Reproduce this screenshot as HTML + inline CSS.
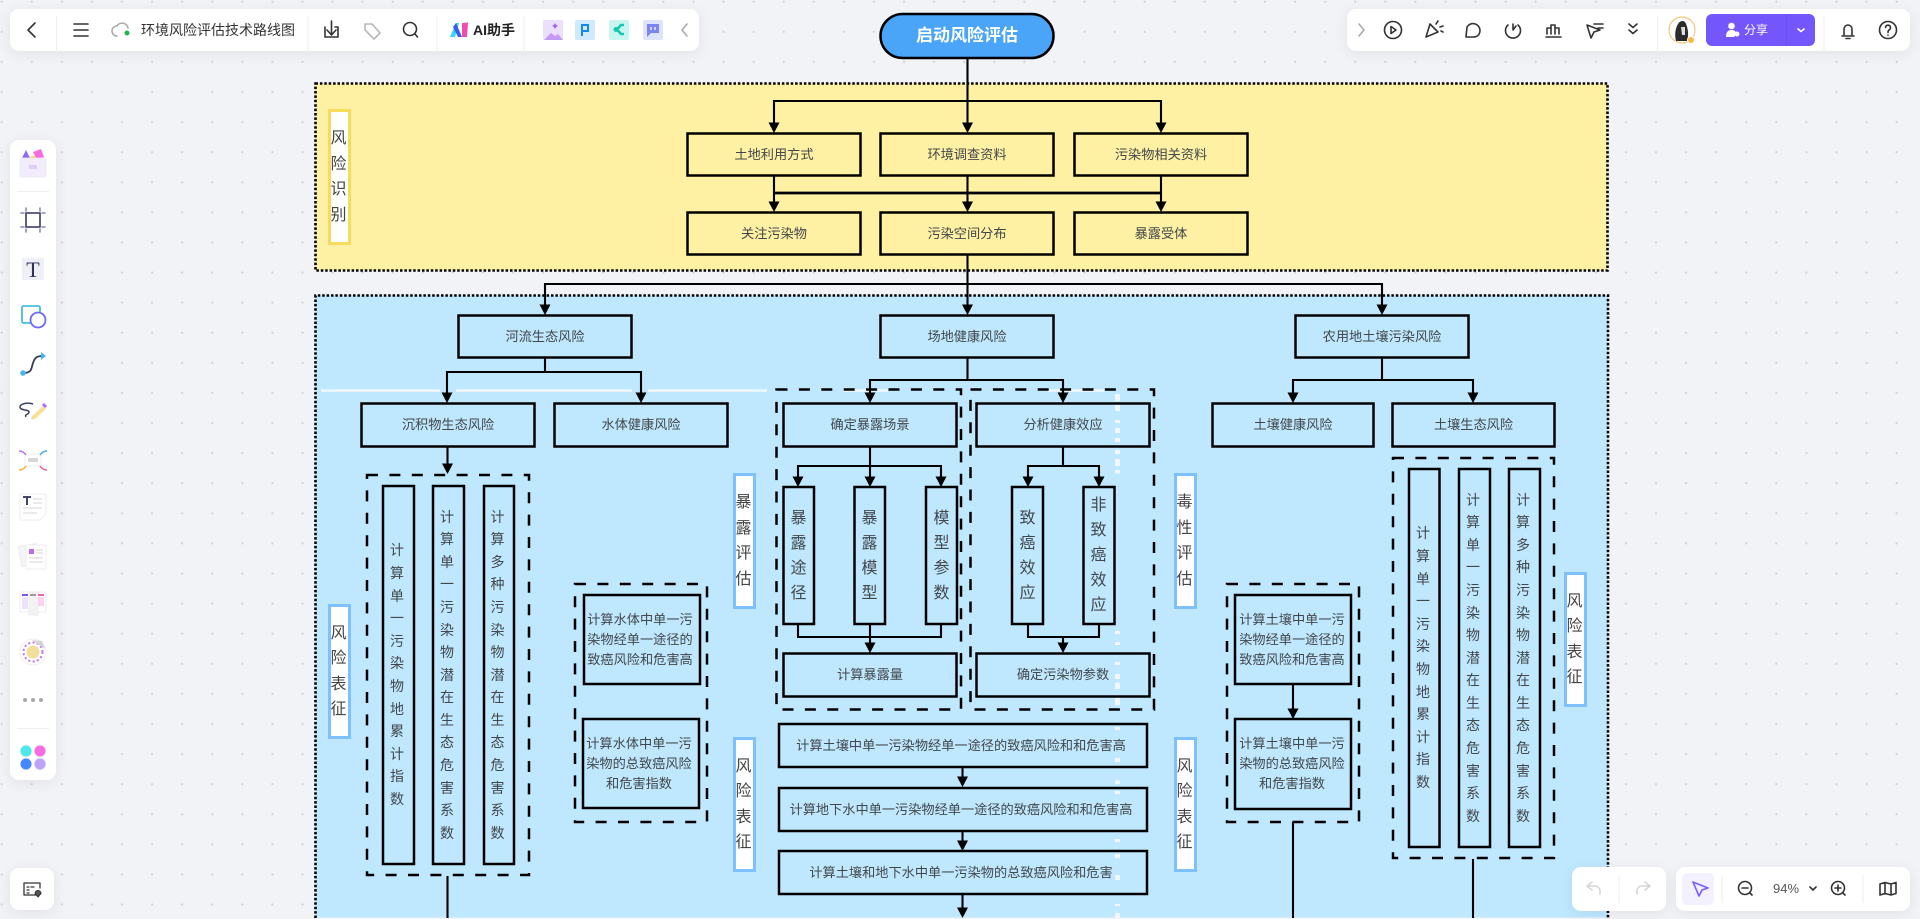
<!DOCTYPE html>
<html lang="zh">
<head>
<meta charset="utf-8">
<title>环境风险评估技术路线图</title>
<style>
html,body{margin:0;padding:0;width:1920px;height:919px;overflow:hidden;background:#f2f3f6;}
body{position:relative;font-family:"Liberation Sans","Noto Sans CJK SC",sans-serif;color:#333;}
#bg{position:absolute;left:0;top:0;width:1920px;height:919px;background-image:radial-gradient(circle at 1.2px 1.2px,#d2d3d7 .9px,transparent 1.3px);background-size:30.09px 30.1px;background-position:.5px .5px;}
svg{position:absolute;left:0;top:0;}
.b{position:absolute;display:flex;align-items:center;justify-content:center;text-align:center;font-size:13.2px;line-height:20px;color:#42474b;box-sizing:border-box;}
.v{width:1em;word-break:break-all;font-size:14px;line-height:22.6px;margin-left:-1px;}
.v2{width:1em;word-break:break-all;font-size:16px;line-height:25px;}
.l{width:1em;word-break:break-all;font-size:16px;line-height:25.5px;color:#444;margin-left:-2px;}
.lab{background:#fff;border:3px solid #7fc0ff;}
.laby{border-color:#f6dc5b;}
.p{position:absolute;background:#fff;border-radius:9px;box-shadow:0 3px 14px rgba(30,40,70,.08);}
.t{position:absolute;font-size:14px;line-height:20px;color:#333;white-space:nowrap;}
</style>
</head>
<body>
<div id="bg"></div>

<svg width="1920" height="919" viewBox="0 0 1920 919">
  <!-- zones -->
  <rect x="315.5" y="83.5" width="1292" height="187" fill="#fef1a3" stroke="#000" stroke-width="2.6" stroke-dasharray="2.5 1.9"/>
  <rect x="315.5" y="295.5" width="1292.5" height="622" fill="#bfe8ff" stroke="none"/>
  <path d="M315.5 918V295.5H1608V918" fill="none" stroke="#000" stroke-width="2.6" stroke-dasharray="2.5 1.9"/>

  <!-- white stripes -->
  <g stroke="#f1f7fb" stroke-width="2.4" fill="none">
    <path d="M321 390.5H440M456 390.5H632M648 390.5H767M843 390.5H888M1048 390.5H1104"/>
  </g>
  <path d="M1117.5 394V401M1117.5 404V411M1117.5 420V423M1117.5 428V433M1117.5 438V442M1117.5 450V454M1117.5 459V466M1117.5 470V473.5M1117.5 631V634M1117.5 642V645M1117.5 662V665M1117.5 674V679M1117.5 682.5V689M1117.5 698V705M1117.5 727V730M1117.5 758V762M1117.5 780.5V784M1117.5 791V794M1117.5 839V842M1117.5 854V858M1117.5 875V880M1117.5 904V906M1117.5 913V918" stroke="#f1f7fb" stroke-width="5" fill="none"/>

  <!-- dashed containers -->
  <g fill="none" stroke="#000" stroke-width="2.5" stroke-dasharray="11 11.4">
    <rect x="367" y="475" width="162" height="400"/>
    <rect x="575" y="584" width="132" height="238"/>
    <rect x="776.5" y="389.5" width="184.5" height="320"/>
    <rect x="970.5" y="389.5" width="183.5" height="320"/>
    <rect x="1227" y="584" width="132" height="238"/>
    <rect x="1393" y="458" width="161" height="400"/>
  </g>

  <!-- connectors -->
  <g fill="none" stroke="#000" stroke-width="2.1">
    <path d="M967.5 58V125M774 124V101H1161V124"/>
    <path d="M774 176V204M967.5 176V204M1161 176V204"/>
    <path d="M774 193H1161" stroke-width="2.7"/>
    <path d="M967.5 255V306M545 306V284H1382V306"/>
    <path d="M545 358V372M447 394V372H641V394"/>
    <path d="M967.5 358V380M870 394V380H1063V394"/>
    <path d="M1382 358V380M1293 394V380H1473V394"/>
    <path d="M447.5 447V465"/>
    <path d="M870 446V478M798 478V466H941V478"/>
    <path d="M1063 446V466M1028 478V466H1099V478"/>
    <path d="M798 624V637H941V624M870 624V644"/>
    <path d="M1028 624V637H1099V624M1063 637V644"/>
    <path d="M962.5 767V778M962.5 831V842M962.5 894V910"/>
    <path d="M1293 684V710"/>
    <path d="M447.5 876V918M1293 822V918M1473 859V918"/>
  </g>
  <!-- arrowheads -->
  <g fill="#000">
    <path d="M768.500 122.500h11l-5.500 10.500zM962 122.500h11l-5.500 10.500zM1155.500 122.500h11l-5.500 10.500z"/>
    <path d="M768.500 201.500h11l-5.500 10.500zM962 201.500h11l-5.500 10.500zM1155.500 201.500h11l-5.500 10.500z"/>
    <path d="M539.500 304.500h11l-5.500 10.500zM962 304.500h11l-5.500 10.500zM1376.500 304.500h11l-5.500 10.500z"/>
    <path d="M441.500 392.500h11l-5.500 10.500zM635.500 392.500h11l-5.500 10.500zM864.500 392.500h11l-5.500 10.500zM1057.500 392.500h11l-5.500 10.500zM1287.500 392.500h11l-5.500 10.500zM1467.500 392.500h11l-5.500 10.500z"/>
    <path d="M442 463.500h11l-5.500 10.500z"/>
    <path d="M792.500 476.500h11l-5.500 10.500zM864.500 476.500h11l-5.500 10.500zM935.500 476.500h11l-5.500 10.500zM1022.500 476.500h11l-5.500 10.500zM1093.500 476.500h11l-5.500 10.500z"/>
    <path d="M864.500 642.500h11l-5.500 10.500zM1057.500 642.500h11l-5.500 10.500z"/>
    <path d="M957 776.500h11l-5.500 10.500zM957 840.500h11l-5.500 10.500zM957 907.500h11l-5.500 10.500z"/>
    <path d="M1287.500 708.500h11l-5.500 10.500z"/>
  </g>

  <!-- boxes -->
  <g fill="none" stroke="#000" stroke-width="2.5">
    <rect x="687.500" y="133.500" width="173" height="42"/>
    <rect x="880.500" y="133.500" width="173" height="42"/>
    <rect x="1074.500" y="133.500" width="173" height="42"/>
    <rect x="687.500" y="212.500" width="173" height="42"/>
    <rect x="880.500" y="212.500" width="173" height="42"/>
    <rect x="1074.500" y="212.500" width="173" height="42"/>
    <rect x="458.500" y="315.500" width="173" height="42"/>
    <rect x="880.500" y="315.500" width="173" height="42"/>
    <rect x="1295.500" y="315.500" width="173" height="42"/>
    <rect x="361.500" y="403.500" width="173" height="43"/>
    <rect x="554.500" y="403.500" width="173" height="43"/>
    <rect x="783.500" y="403.500" width="173" height="43"/>
    <rect x="976.500" y="403.500" width="173" height="43"/>
    <rect x="1212.500" y="403.500" width="161" height="43"/>
    <rect x="1392.500" y="403.500" width="162" height="43"/>
    <rect x="383" y="486" width="31" height="378"/>
    <rect x="433" y="486" width="31" height="378"/>
    <rect x="484" y="486" width="30" height="378"/>
    <rect x="584" y="595" width="116" height="89"/>
    <rect x="583" y="719" width="116" height="89"/>
    <rect x="783.500" y="487" width="30.500" height="137"/>
    <rect x="854.500" y="487" width="30.500" height="137"/>
    <rect x="926" y="487" width="31" height="137"/>
    <rect x="1012" y="487" width="31" height="137"/>
    <rect x="1083.500" y="487" width="31" height="137"/>
    <rect x="783.500" y="653.500" width="173" height="43"/>
    <rect x="976.500" y="653.500" width="173" height="43"/>
    <rect x="779" y="724" width="368" height="43"/>
    <rect x="779" y="788" width="368" height="43"/>
    <rect x="779" y="851" width="368" height="43"/>
    <rect x="1235" y="595" width="116" height="89"/>
    <rect x="1235" y="719" width="116" height="90"/>
    <rect x="1409" y="469" width="30.500" height="378"/>
    <rect x="1459" y="469" width="31" height="378"/>
    <rect x="1509" y="469" width="31" height="378"/>
  </g>
  <!-- start -->
  <rect x="880.500" y="14" width="173" height="44" rx="22" fill="#4aa4f8" stroke="#000" stroke-width="2.5"/>
</svg>

<!-- start text -->
<div class="b" style="left:880px;top:14px;width:174px;height:44px;color:#fff;font-size:17px;font-weight:700;">启动风险评估</div>

<!-- row texts -->
<div class="b" style="left:687px;top:133px;width:174px;height:43px;">土地利用方式</div>
<div class="b" style="left:880px;top:133px;width:174px;height:43px;">环境调查资料</div>
<div class="b" style="left:1074px;top:133px;width:174px;height:43px;">污染物相关资料</div>
<div class="b" style="left:687px;top:212px;width:174px;height:43px;">关注污染物</div>
<div class="b" style="left:880px;top:212px;width:174px;height:43px;">污染空间分布</div>
<div class="b" style="left:1074px;top:212px;width:174px;height:43px;">暴露受体</div>
<div class="b" style="left:458px;top:315px;width:174px;height:43px;">河流生态风险</div>
<div class="b" style="left:880px;top:315px;width:174px;height:43px;">场地健康风险</div>
<div class="b" style="left:1295px;top:315px;width:174px;height:43px;">农用地土壤污染风险</div>
<div class="b" style="left:361px;top:403px;width:174px;height:44px;">沉积物生态风险</div>
<div class="b" style="left:554px;top:403px;width:174px;height:44px;">水体健康风险</div>
<div class="b" style="left:783px;top:403px;width:174px;height:44px;">确定暴露场景</div>
<div class="b" style="left:976px;top:403px;width:174px;height:44px;">分析健康效应</div>
<div class="b" style="left:1212px;top:403px;width:162px;height:44px;">土壤健康风险</div>
<div class="b" style="left:1392px;top:403px;width:163px;height:44px;">土壤生态风险</div>
<div class="b" style="left:783px;top:653px;width:174px;height:44px;">计算暴露量</div>
<div class="b" style="left:976px;top:653px;width:174px;height:44px;">确定污染物参数</div>
<div class="b" style="left:777px;top:724px;width:368px;height:43px;">计算土壤中单一污染物经单一途径的致癌风险和和危害高</div>
<div class="b" style="left:777px;top:788px;width:368px;height:43px;">计算地下水中单一污染物经单一途径的致癌风险和和危害高</div>
<div class="b" style="left:777px;top:851px;width:368px;height:43px;">计算土壤和地下水中单一污染物的总致癌风险和危害</div>
<div class="b" style="left:582px;top:595px;width:116px;height:89px;">计算水体中单一污<br>染物经单一途径的<br>致癌风险和危害高</div>
<div class="b" style="left:581px;top:719px;width:116px;height:89px;">计算水体中单一污<br>染物的总致癌风险<br>和危害指数</div>
<div class="b" style="left:1234px;top:595px;width:116px;height:89px;">计算土壤中单一污<br>染物经单一途径的<br>致癌风险和危害高</div>
<div class="b" style="left:1234px;top:719px;width:116px;height:90px;">计算土壤中单一污<br>染物的总致癌风险<br>和危害指数</div>

<!-- vertical long -->
<div class="b" style="left:382px;top:486px;width:31px;height:378px;"><div class="v">计算单一污染物地累计指数</div></div>
<div class="b" style="left:432px;top:486px;width:31px;height:378px;"><div class="v">计算单一污染物潜在生态危害系数</div></div>
<div class="b" style="left:483px;top:486px;width:30px;height:378px;"><div class="v">计算多种污染物潜在生态危害系数</div></div>
<div class="b" style="left:1408px;top:469px;width:31px;height:378px;"><div class="v">计算单一污染物地累计指数</div></div>
<div class="b" style="left:1458px;top:469px;width:31px;height:378px;"><div class="v">计算单一污染物潜在生态危害系数</div></div>
<div class="b" style="left:1508px;top:469px;width:31px;height:378px;"><div class="v">计算多种污染物潜在生态危害系数</div></div>

<!-- vertical short -->
<div class="b" style="left:783px;top:487px;width:31px;height:137px;"><div class="v2">暴露途径</div></div>
<div class="b" style="left:854px;top:487px;width:31px;height:137px;"><div class="v2">暴露模型</div></div>
<div class="b" style="left:926px;top:487px;width:31px;height:137px;"><div class="v2">模型参数</div></div>
<div class="b" style="left:1012px;top:487px;width:31px;height:137px;"><div class="v2">致癌效应</div></div>
<div class="b" style="left:1083px;top:487px;width:31px;height:137px;"><div class="v2">非致癌效应</div></div>

<!-- labels -->
<div class="b lab laby" style="left:328px;top:109px;width:23px;height:136px;"><div class="l">风险识别</div></div>
<div class="b lab" style="left:328px;top:604px;width:23px;height:135px;"><div class="l">风险表征</div></div>
<div class="b lab" style="left:733px;top:473px;width:23px;height:136px;"><div class="l">暴露评估</div></div>
<div class="b lab" style="left:733px;top:737px;width:23px;height:135px;"><div class="l">风险表征</div></div>
<div class="b lab" style="left:1174px;top:473px;width:23px;height:136px;"><div class="l">毒性评估</div></div>
<div class="b lab" style="left:1174px;top:737px;width:23px;height:135px;"><div class="l">风险表征</div></div>
<div class="b lab" style="left:1564px;top:572px;width:23px;height:135px;"><div class="l">风险表征</div></div>

<!-- top-left panel -->
<div class="p" style="left:10px;top:9px;width:689px;height:42px;"></div>
<div class="t" style="left:141px;top:20px;">环境风险评估技术路线图</div>
<div class="t" style="left:473px;top:20px;font-weight:700;color:#222;">AI助手</div>
<!-- top-right panel -->
<div class="p" style="left:1347px;top:9px;width:563px;height:42px;"></div>
<div style="position:absolute;left:1706px;top:14px;width:109px;height:32px;background:#7357fd;border-radius:6px;"></div>
<div class="t" style="left:1744px;top:20px;color:#fff;font-size:12px;">分享</div>
<!-- left panel -->
<div class="p" style="left:10px;top:140px;width:46px;height:640px;"></div>
<div class="p" style="left:10px;top:868px;width:44px;height:42px;"></div>
<!-- bottom right -->
<div class="p" style="left:1572px;top:867px;width:94px;height:44px;"></div>
<div class="p" style="left:1676px;top:867px;width:234px;height:44px;"></div>
<div style="position:absolute;left:1682px;top:873px;width:32px;height:32px;background:#f3f1ff;border-radius:5px;"></div>
<div class="t" style="left:1773px;top:879px;font-size:13px;color:#555;">94%</div>

<!-- icons overlay -->
<svg width="1920" height="919" viewBox="0 0 1920 919" style="pointer-events:none">
  <g fill="none" stroke="#333" stroke-width="1.6" stroke-linecap="round" stroke-linejoin="round">
    <!-- left toolbar -->
    <path d="M35 23l-7 7 7 7"/>
    <path d="M74 24h14M74 30h14M74 36h14"/>
    <path d="M117 36a5 5 0 0 1 0-10 6 6 0 0 1 11 2" stroke="#aaa"/>
    <path d="M325 27v10h13V27h-3M331.500 21v13M327 30l4.500 5 4.500-5"/>
    <path d="M365 24h7l8 9-6 6-9-9z" stroke="#b8b8b8"/>
    <circle cx="410" cy="29" r="6.500"/><path d="M415 34l2.500 3"/>
    <path d="M680 24l-5 6 5 6" transform="translate(7 0)" stroke="#aaa"/>
    <!-- right toolbar -->
    <path d="M1359 24l5 6-5 6" stroke="#aaa"/>
    <circle cx="1393" cy="30" r="8.500"/><path d="M1391 26.500l5 3.500-5 3.500z"/>
    <path d="M1426 37l4-13 8 8zM1436 24l2-3M1440 27l3-1M1441 31l2 1"/>
    <path d="M1466 37l1-10a7 7 0 0 1 13 3c0 5-3 7-7 7z"/>
    <path d="M1508 25a7.500 7.500 0 1 0 10 0M1513 24v6l3-4"/>
    <path d="M1546 37h15M1547 34v-6h4v6M1551 34v-9h4v9M1555 34v-6h4v6"/>
    <path d="M1587 25l13 5-6 2-3 6zM1594 24h9M1598 28h5"/>
    <path d="M1629 24l4 3.500 4-3.500M1629 30l4 3.500 4-3.500"/>
    <path d="M1842 36h12M1844 35v-6a4 4 0 0 1 8 0v6M1846 38.500h4"/>
    <circle cx="1888" cy="30" r="8.500"/><path d="M1885.500 27.500a2.500 2.500 0 1 1 3.500 2.500c-1 .5-1 1.500-1 2.500M1888 35v.2"/>
    <!-- bottom right -->
    <path d="M1592 882l-5 4 5 4M1587 886h8a5 5 0 0 1 5 5v3" stroke="#d6d6d6"/>
    <path d="M1645 882l5 4-5 4M1650 886h-8a5 5 0 0 0-5 5v3" stroke="#d6d6d6"/>
    <path d="M1693 882l15 6-6 2-3 6z" stroke="#7a5cff"/>
    <circle cx="1745" cy="888" r="6.500"/><path d="M1742 888h6M1750 893l2 2"/>
    <path d="M1810 887l3 3 3-3"/>
    <circle cx="1838" cy="888" r="6.500"/><path d="M1835 888h6M1838 885v6M1843 893l2 2"/>
    <path d="M1880 884l5-1.500 6 1.500 5-1.500v11l-5 1.500-6-1.500-5 1.500zM1885 883v11M1891 884v11"/>
    <!-- bottom left -->
    <path d="M38 895H24v-12h16v5" stroke-width="1.300"/><path d="M27 887h2M27 890h2M27 893h2M31 887h3" stroke-width="1.200"/>
    <path d="M38 897l-3-3.500a3 3 0 1 1 6 0z" fill="#555" stroke-width="1"/>
    <!-- sidebar -->
    <rect x="26" y="213" width="14" height="14" stroke="#4b4f74" stroke-width="1.8"/>
    <path d="M26 208v3M40 208v3M26 229v3M40 229v3M21 213h3M21 227h3M42 213h3M42 227h3" stroke="#888ba4"/>
  </g>
  <!-- dividers -->
  <path d="M56.500 22v38M308 22v38M437 22v38M524 22v38M1657.500 22v38M1824 22v38" stroke="#eeeef0" stroke-width="1" transform="translate(0 -6) scale(1 .98)"/>
  <path d="M1722 875v28M1863 875v28M1619 875v28" stroke="#eeeef0"/>
  <path d="M17 191.500h32M17 728.500h32" stroke="#eeeef0"/>
  <path d="M1786.500 14v32" stroke="#6a4ff0"/>
  <!-- cloud dot -->
  <circle cx="127" cy="33" r="2.500" fill="#22b14c"/>
  <!-- AI logo -->
  <path d="M450 37l6-14h3l-4 14z" fill="#35d6f0"/><path d="M456 23l6 14h-4l-5-10z" fill="#3a5bf0"/><path d="M462 37l0-14 6-0.500-1 14.500z" fill="#f04bb0"/>
  <!-- app icons -->
  <rect x="543" y="20" width="20" height="20" rx="2" fill="#ecdffd"/><path d="M544 40l7-7 4 3 3-2 5 6z" fill="#c59af5"/><path d="M555 23l1 2 2 1-2 1-1 2-1-2-2-1 2-1z" fill="#9a5cf5"/>
  <rect x="575" y="20" width="20" height="20" rx="2" fill="#cfe9fd"/><path d="M582 36V25h6v6h-6" fill="none" stroke="#1689e8" stroke-width="2"/>
  <rect x="609" y="20" width="20" height="20" rx="2" fill="#c9f5f0"/><path d="M624 25h-3l-4 4.500 4 4.500h3" fill="none" stroke="#14c8b2" stroke-width="2.600"/><circle cx="616" cy="29.500" r="2.500" fill="#14c8b2"/>
  <rect x="643" y="20" width="20" height="20" rx="2" fill="#dfe4fd"/><path d="M647 24h12v9h-8l-4 4z" fill="#7c83f2"/><path d="M651 27v3M655 27v3" stroke="#fff" stroke-width="1.300"/>
  <!-- avatar -->
  <circle cx="1682" cy="30" r="13" fill="#fff" stroke="#f4c77a" stroke-width="1.200"/>
  <path d="M1676 41c-2-7 0-14 2-17 2-4 7-4 8 0 2 4 3 12 1 17z" fill="#2b2b2b"/><path d="M1681 27h4v8h-3z" fill="#ddd"/>
  <circle cx="1691" cy="40" r="3.500" fill="#f8b84a" stroke="#fff"/>
  <!-- share icon/chevron -->
  <circle cx="1731.500" cy="26" r="3.300" fill="#fff"/><path d="M1726 37c0-5 2-7 5.500-7 2 0 3 .5 4 1.500l-1 5.500z" fill="#fff"/><circle cx="1737" cy="34" r="2.500" fill="#fff"/>
  <path d="M1797.500 28.500l3.500 3 3.500-3" fill="none" stroke="#fff" stroke-width="1.600"/>
  <!-- palette -->
  <path d="M21 160l5-10 5 10z" fill="#8e6cf2"/><path d="M33 152l8-3 3 8-7 3z" fill="#f76de0"/><circle cx="33" cy="161" r="5" fill="#fbcf5e"/>
  <rect x="20" y="158" width="26" height="19" rx="2" fill="#f2ecfd" stroke="#e8e8ee" stroke-width=".8"/><rect x="29" y="165" width="8" height="4" fill="#dccff7"/>
  <!-- T -->
  <rect x="21" y="257" width="24" height="24" fill="#eef0f6" stroke="#fff" stroke-width="2"/>
  <text x="33" y="277" font-family="Liberation Serif, serif" font-weight="400" font-size="22" text-anchor="middle" fill="#2e3259">T</text>
  <!-- shapes -->
  <rect x="22" y="306" width="18" height="17" rx="1.500" fill="#fff" stroke="#2bb6dc" stroke-width="1.600"/>
  <circle cx="38" cy="320" r="7.500" fill="#fff" stroke="#6c6cf2" stroke-width="1.800"/>
  <!-- curve -->
  <path d="M23 373c9 0 8-4 10-10s4-7 10-7" fill="none" stroke="#333a58" stroke-width="1.800"/>
  <circle cx="23" cy="373" r="2.800" fill="#45b7f0"/><path d="M41 352l5 4-5 4z" fill="#45b7f0"/>
  <!-- pen -->
  <path d="M33 404c-6-2-13 0-13 3 0 4 9 2 9 5 0 3-5 2-3 5" fill="none" stroke="#3c4166" stroke-width="1.500"/>
  <path d="M32 416l11-10 3 3-11 10-4 1z" fill="#fbe08a" stroke="#eee" stroke-width=".8"/><path d="M42 405l2-2 3 3-2 2z" fill="#b765f2"/>
  <!-- mindmap -->
  <rect x="25" y="454" width="16" height="12" rx="1" fill="#fff" stroke="#eee"/><rect x="28" y="458" width="10" height="4" fill="#d6d6d6"/>
  <g fill="none" stroke-width="1.500"><path d="M19 451c3 0 5 1 7 4" stroke="#c06bea"/><path d="M47 451c-3 0-5 1-7 4" stroke="#45a8f5"/><path d="M19 470c3 0 5-1 7-4" stroke="#f7ad3d"/><path d="M47 470c-3 0-5-1-7-4" stroke="#f0609b"/></g>
  <!-- doc -->
  <path d="M20 494h26v20l-6 6H20z" fill="#fff" stroke="#ececec"/><path d="M23 497h8M27 497v8" stroke="#2e3259" stroke-width="1.800"/><path d="M33 499h9M33 503h9M23 508h19M23 513h14" stroke="#d6d6d6"/>
  <!-- doc 2 -->
  <rect x="20" y="545" width="18" height="20" fill="#f5f5f7" stroke="#ececec" transform="rotate(-10 29 555)"/>
  <rect x="26" y="545" width="20" height="24" rx="1" fill="#fff" stroke="#ececec"/>
  <rect x="29" y="549" width="5" height="5" fill="#bf6ae8"/><path d="M36 550h7M36 553h7M29 558h14M29 562h14" stroke="#d6d6d6"/>
  <!-- kanban -->
  <rect x="20" y="592" width="26" height="20" rx="1" fill="#fff" stroke="#ececec"/><rect x="29" y="592" width="9" height="23" fill="#f3f3f3" stroke="#ececec"/>
  <path d="M22 595h6" stroke="#7257f5" stroke-width="2"/><path d="M30 595h6" stroke="#9b9b9b" stroke-width="2"/><path d="M38 595h6" stroke="#f55fb0" stroke-width="2"/>
  <rect x="22" y="597" width="6" height="12" fill="#ece2fb"/><rect x="38" y="597" width="6" height="9" fill="#fbd3ee"/>
  <!-- sticker -->
  <circle cx="33" cy="652" r="13" fill="#fff" stroke="#eee"/><circle cx="33" cy="652" r="6.500" fill="#f3df9a"/>
  <circle cx="33" cy="652" r="9.500" fill="none" stroke="#c672ee" stroke-width="2" stroke-dasharray="2 2.400"/>
  <path d="M32 640l13 9-3-8z" fill="#d4d4d4"/>
  <!-- dots -->
  <circle cx="25" cy="700" r="2" fill="#a9a9a9"/><circle cx="33" cy="700" r="2" fill="#a9a9a9"/><circle cx="41" cy="700" r="2" fill="#a9a9a9"/>
  <!-- flower -->
  <circle cx="26" cy="751" r="6" fill="#4de8ea" stroke="#f4f4f6"/><circle cx="40" cy="751" r="6" fill="#f76de0" stroke="#f4f4f6"/><circle cx="26" cy="764" r="6" fill="#4487fb" stroke="#f4f4f6"/><circle cx="40" cy="764" r="6" fill="#bea2f9" stroke="#f4f4f6"/>
</svg>
</body>
</html>
